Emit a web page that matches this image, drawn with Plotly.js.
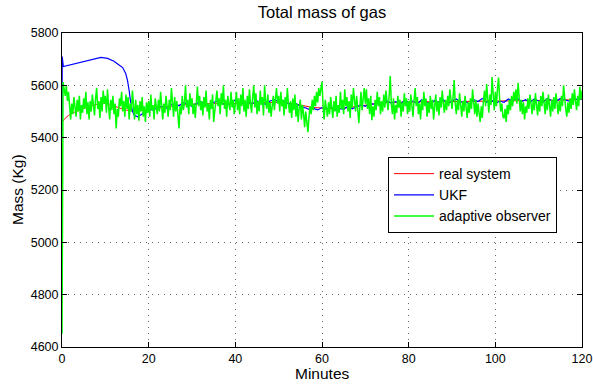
<!DOCTYPE html>
<html>
<head>
<meta charset="utf-8">
<script src="https://cdn.plot.ly/plotly-3.0.1.min.js"></script>
<style>html,body{margin:0;padding:0;background:#fff;}#chart{width:593px;height:387px;}</style>
</head>
<body>
<div id="chart"></div>
<script>
// Real system (smooth), sampled in minutes
var redT = [0,1,2,4,6,8,9.5,11,13,15,17,19,22,25,30,35,40,45,50,54,57,60,63,66,70,74,80,90,100,110,120];
var redV = [5460,5478,5490,5505,5518,5527,5532,5528,5515,5505,5502,5505,5512,5520,5528,5530,5530,5532,5535,5528,5518,5513,5511,5515,5524,5533,5536,5538,5540,5542,5546];

// UKF estimate
var blueT = [0,0.05,0.3,3,6,9,10.5,12,13,14,14.7,15.1,15.5,15.8,16.3,16.7,17.5,18.5,
  19,20,21,22,23,24,25,26,27,28,29,30,31,32,33,34,35,36,37,38,39,40,41,42,43,44,45,46,47,48,49,
  50,51,52,53,54,55,56,57,58,59,60,61,62,63,64,65,66,67,68,69,70,71,72,73,74,75,76,77,78,79,
  80,81,82,83,84,85,86,87,88,89,90,91,92,93,94,95,96,97,98,99,100,101,102,103,104,105,106,107,108,109,
  110,111,112,113,114,115,116,117,118,119,120];
var blueV = [5400,5710,5672,5683,5695,5707,5703,5692,5680,5668,5645,5620,5580,5540,5500,5485,5480,5490,
  5500,5510,5505,5515,5520,5512,5525,5530,5522,5535,5528,5520,5530,5538,5527,5522,5535,5540,5530,5525,5532,5545,5535,5528,5536,5530,5540,5533,5527,5540,5545,
  5538,5542,5532,5525,5530,5520,5515,5508,5512,5506,5515,5508,5518,5505,5512,5508,5520,5510,5518,5525,5520,5530,5528,5535,5525,5540,5532,5538,5528,5542,
  5535,5540,5530,5545,5536,5530,5542,5535,5545,5530,5540,5548,5535,5540,5528,5545,5538,5550,5535,5545,5530,5540,5535,5548,5540,5552,5538,5545,5535,5548,
  5540,5535,5550,5542,5538,5550,5545,5540,5552,5545,5548];

// Adaptive observer, every 0.25 minute
var greenStep = 0.25;
var greenV = [
 4650,5612,5585,5560,5598,5540,5575,5505,5470,5530,5490,5555,5515,5480,5545,5500,5560,5470,5525,5495,5550,5510,5575,5490,5535,5470,5540,5500,5565,5520,5485,5550,5590,5510,5540,5475,5555,5500,5580,5530,
 5560,5495,5585,5520,5470,5545,5505,5560,5490,5530,5435,5510,5480,5550,5520,5575,5500,5540,5480,5565,5510,5555,5470,5530,5500,5580,5520,5470,5545,5490,5525,5465,5540,5500,5555,5480,5520,5460,5535,5495,
 5540,5480,5565,5505,5525,5470,5550,5510,5490,5545,5500,5575,5515,5470,5530,5495,5560,5520,5480,5545,5505,5590,5530,5480,5555,5500,5540,5470,5435,5520,5490,5560,5505,5530,5600,5515,5545,5490,5570,5520,
 5550,5490,5530,5475,5545,5595,5520,5560,5505,5540,5485,5555,5515,5580,5500,5530,5470,5545,5510,5565,5460,5500,5535,5580,5520,5550,5490,5570,5525,5600,5510,5545,5480,5560,5530,5505,5575,5515,5545,5490,
 5530,5575,5505,5550,5490,5565,5520,5590,5500,5545,5480,5560,5510,5585,5530,5495,5555,5600,5515,5570,5490,5540,5500,5580,5525,5555,5485,5600,5540,5510,5565,5495,5535,5480,5520,5560,5505,5545,5590,5530,
 5560,5500,5575,5520,5545,5485,5555,5510,5590,5530,5495,5540,5475,5550,5505,5565,5480,5530,5460,5515,5545,5470,5525,5490,5440,5500,5455,5421,5480,5520,5490,5545,5505,5560,5520,5575,5535,5590,5560,5600,
 5614,5520,5470,5545,5500,5480,5535,5490,5555,5515,5475,5540,5500,5560,5480,5525,5495,5575,5510,5545,5490,5585,5520,5555,5500,5540,5475,5565,5515,5590,5530,5500,5560,5480,5455,5520,5575,5505,5545,5590,
 5530,5585,5510,5550,5490,5560,5467,5520,5480,5545,5505,5575,5520,5555,5490,5540,5500,5565,5515,5580,5540,5505,5560,5636,5530,5490,5550,5470,5525,5495,5560,5515,5545,5480,5535,5500,5570,5520,5550,5490,
 5540,5500,5565,5515,5480,5545,5590,5520,5555,5490,5530,5470,5545,5505,5575,5520,5550,5480,5535,5495,5560,5510,5545,5470,5525,5565,5500,5540,5485,5555,5515,5580,5530,5495,5545,5505,5560,5520,5585,5540,
 5510,5555,5620,5530,5490,5545,5505,5570,5520,5480,5540,5500,5560,5515,5475,5535,5495,5550,5510,5585,5525,5490,5545,5480,5530,5500,5460,5520,5475,5540,5580,5520,5605,5550,5495,5565,5525,5632,5540,5505,
 5575,5520,5590,5630,5545,5500,5530,5480,5474,5510,5460,5525,5490,5545,5505,5560,5520,5575,5540,5585,5530,5610,5555,5500,5545,5490,5535,5470,5520,5495,5550,5510,5565,5525,5490,5545,5505,5570,5530,5485,
 5540,5500,5560,5520,5575,5535,5490,5550,5505,5565,5520,5480,5545,5500,5555,5510,5570,5530,5490,5540,5500,5560,5520,5600,5545,5510,5480,5535,5495,5550,5510,5570,5525,5585,5540,5505,5560,5520,5594,5545,5580
];
var greenT = greenV.map(function(_, i){ return i * greenStep; });

var xTicks = [0,20,40,60,80,100,120];
var yTicks = [4600,4800,5000,5200,5400,5600,5800];

var font = "Liberation Sans, Arial, Helvetica, sans-serif";

var traces = [
  {x: redT, y: redV, mode: 'lines', name: 'real system', line: {color: '#ff0000', width: 1, shape: 'spline'}},
  {x: blueT, y: blueV, mode: 'lines', name: 'UKF', line: {color: '#0000ff', width: 1.2}},
  {x: greenT, y: greenV, mode: 'lines', name: 'adaptive observer', line: {color: '#00ff00', width: 1.5}}
];

var axisCommon = {
  showline: true, linecolor: '#000', linewidth: 1, mirror: 'ticks',
  ticks: 'inside', ticklen: 5, tickcolor: '#000', tickwidth: 1,
  showgrid: true, gridcolor: '#666', griddash: '1px,5px', gridwidth: 1,
  zeroline: false, tickfont: {family: font, size: 12.5, color: '#000'}
};

var layout = {
  width: 593, height: 387,
  margin: {l: 62, r: 11, t: 33, b: 40},
  paper_bgcolor: '#fff', plot_bgcolor: '#fff',
  font: {family: font, color: '#000'},
  title: {text: 'Total mass of gas', font: {family: font, size: 16.5, color: '#000'},
          xref: 'paper', x: 0.5, xanchor: 'center', yref: 'container', y: 1 - 12/387, yanchor: 'middle'},
  xaxis: Object.assign({}, axisCommon, {
    range: [0, 120], tickvals: xTicks, ticktext: xTicks.map(String)
  }),
  yaxis: Object.assign({}, axisCommon, {
    range: [4600, 5800], tickvals: yTicks, ticktext: yTicks.map(String)
  }),
  annotations: [
    {text: 'Minutes', xref: 'paper', yref: 'paper', x: 0.5, y: -(373 - 347) / 314,
     xanchor: 'center', yanchor: 'middle', showarrow: false,
     font: {family: font, size: 15.5, color: '#000'}},
    {text: 'Mass (Kg)', xref: 'paper', yref: 'paper', x: -(62 - 17) / 520, y: 0.5,
     xanchor: 'center', yanchor: 'middle', textangle: -90, showarrow: false,
     font: {family: font, size: 15.5, color: '#000'}}
  ],
  showlegend: true,
  legend: {
    x: 0.627, y: 0.605, xanchor: 'left', yanchor: 'top',
    bgcolor: '#fff', bordercolor: '#000', borderwidth: 1,
    font: {family: font, size: 14, color: '#000'},
    itemwidth: 40, tracegroupgap: 0
  }
};

Plotly.newPlot('chart', traces, layout, {staticPlot: true, displayModeBar: false});
</script>
</body>
</html>
